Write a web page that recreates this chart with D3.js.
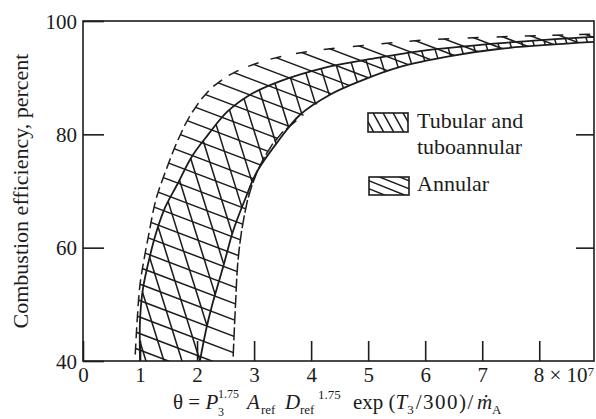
<!DOCTYPE html>
<html><head><meta charset="utf-8">
<script src="https://cdn.jsdelivr.net/npm/d3@7"></script>
<style>
body{margin:0;background:#fff;}
svg{display:block;font-family:"Liberation Serif","Times New Roman",serif;}
</style></head><body>
<svg id="chart" width="596" height="419"></svg>
<script>
// ---------- data ----------
const xTickValues = [0,1,2,3,4,5,6,7,8];
const xTickLabels = ["0","1","2","3","4","5","6","7","8 × 10"];
const xTickExponent = "7";
const yTickValues = [40,60,80,100];
const rightTickValues = [60,80];
const xMax = 8.96;

// Tubular and tuboannular band: upper/left boundary (solid)
const tubUpperX = [1.00,1.00,1.05,1.18,1.30,1.44,1.65,1.91,2.19,2.53,2.93,3.46,4.21,5.04,5.91,7.32,8.96];
const tubUpperY = [40.0,47.2,52.7,58.8,63.2,67.1,71.1,76.1,79.9,84.0,87.0,89.4,91.7,93.3,94.7,96.1,97.2];
// Tubular and tuboannular band: lower/right boundary (solid)
const tubLowerX = [2.05,2.16,2.26,2.46,2.63,2.84,3.05,3.40,3.81,4.33,4.86,5.56,6.44,7.32,8.96];
const tubLowerY = [40.0,45.6,49.7,56.7,62.9,68.5,73.4,78.5,83.5,87.0,89.4,91.9,93.8,95.1,96.3];
// Annular band: upper/left boundary (broken)
const annUpperX = [0.91,0.95,1.00,1.07,1.16,1.28,1.46,1.67,1.91,2.23,2.58,2.93,3.46,4.16,5.04,6.09,7.32,8.96];
const annUpperY = [40.0,47.2,53.5,57.9,62.7,68.5,73.8,79.1,83.8,87.9,90.5,92.1,93.7,94.9,95.8,96.7,97.2,97.7];
// Annular band: lower/right boundary (broken, joins tubular lower boundary)
const annLowerX = [2.63,2.67,2.72,2.81,2.93,3.14,3.46,3.90,4.33,4.86,5.56,6.44,7.32,8.96];
const annLowerY = [40.0,49.1,57.9,64.6,69.9,75.2,79.9,83.6,87.0,89.4,91.9,93.8,95.1,96.3];

const legendLabels = [["Tubular and","tuboannular"],["Annular"]];
const yTitle = "Combustion efficiency, percent";

// ---------- setup ----------
const svg = d3.select("#chart");
const x = d3.scaleLinear().domain([0, xMax]).range([83, 594]);
const y = d3.scaleLinear().domain([40, 100]).range([361, 21]);
const ink = "#1c1c1c";

const toPts = (xs, ys) => xs.map((v,i) => [x(v), y(ys[i])]);
const lineGen = d3.line().curve(d3.curveCatmullRom.alpha(0.5));

function sample(pts){
  const p = svg.append("path").attr("d", lineGen(pts)).attr("fill","none");
  const n = p.node(), L = n.getTotalLength(), out = [];
  for (let s = 0; s < L; s += 1){ const q = n.getPointAtLength(s); out.push([q.x,q.y]); }
  const q = n.getPointAtLength(L); out.push([q.x,q.y]);
  p.remove();
  return out;
}
function intersect(p0, v, poly){
  for (let i = 0; i < poly.length-1; i++){
    const a = poly[i], b = poly[i+1];
    const e = [b[0]-a[0], b[1]-a[1]];
    const den = v[0]*e[1] - v[1]*e[0];
    if (Math.abs(den) < 1e-9) continue;
    const w = [a[0]-p0[0], a[1]-p0[1]];
    const u = (w[0]*v[1] - w[1]*v[0]) / den;
    if (u >= 0 && u <= 1){
      const len = Math.hypot(e[0],e[1]);
      return {pt:[a[0]+u*e[0], a[1]+u*e[1]], tan:[e[0]/len, e[1]/len]};
    }
  }
  return null;
}

const tubU = toPts(tubUpperX, tubUpperY), tubL = toPts(tubLowerX, tubLowerY);
const annU = toPts(annUpperX, annUpperY), annL = toPts(annLowerX, annLowerY);
const sTubU = sample(tubU), sTubL = sample(tubL), sAnnU = sample(annU), sAnnL = sample(annL);

const defs = svg.append("defs");
const polyPath = pts => "M" + pts.map(p => p.join(",")).join("L") + "Z";
defs.append("clipPath").attr("id","clipTub").append("path")
  .attr("d", polyPath(sTubU.concat(sTubL.slice().reverse())));
defs.append("clipPath").attr("id","clipAnn").append("path")
  .attr("d", polyPath(sAnnU.concat(sAnnL.slice().reverse())));
defs.append("clipPath").attr("id","clipPlot").append("rect")
  .attr("x", x(0)).attr("y", y(100)).attr("width", x(xMax)-x(0)).attr("height", y(40)-y(100));

const plot = svg.append("g").attr("clip-path","url(#clipPlot)");

// ---------- annular hatch (shallow "\") ----------
const annSlope = 0.38;
const annDir = [1/Math.hypot(1,annSlope), annSlope/Math.hypot(1,annSlope)];
const annG = plot.append("g");
const annHatch = annG.append("g").attr("clip-path","url(#clipAnn)");
let b = 345;
while (b > -175){
  const p0 = [x(0), b];
  annHatch.append("line")
    .attr("x1", p0[0]-50).attr("y1", p0[1]-50*annSlope)
    .attr("x2", p0[0]+600).attr("y2", p0[1]+600*annSlope)
    .attr("stroke", ink).attr("stroke-width", 1.5);
  const hu = intersect(p0, annDir, sAnnU);
  if (hu){
    annG.append("line")
      .attr("x1", hu.pt[0]-hu.tan[0]*6).attr("y1", hu.pt[1]-hu.tan[1]*6)
      .attr("x2", hu.pt[0]+hu.tan[0]*5).attr("y2", hu.pt[1]+hu.tan[1]*5)
      .attr("stroke", ink).attr("stroke-width", 1.5);
  }
  const hl = intersect(p0, annDir, sAnnL);
  if (hl && hl.pt[1] > y(82)){
    annG.append("line")
      .attr("x1", hl.pt[0]-hl.tan[0]*4).attr("y1", hl.pt[1]-hl.tan[1]*4)
      .attr("x2", hl.pt[0]+hl.tan[0]*9).attr("y2", hl.pt[1]+hl.tan[1]*9)
      .attr("stroke", ink).attr("stroke-width", 1.5);
  }
  b -= b > 40 ? 16.5 : Math.max(11, 16.5 - (40-b)*0.03);
}

// ---------- tubular hatch (steep "\") ----------
const tubSlope = 3.2;
const tubHatch = plot.append("g").attr("clip-path","url(#clipTub)");
let c = 110;
while (c < 730){
  const yb = y(40);
  tubHatch.append("line")
    .attr("x1", c + 10/tubSlope).attr("y1", yb + 10)
    .attr("x2", c - 360/tubSlope).attr("y2", yb - 360)
    .attr("stroke", ink).attr("stroke-width", 1.5);
  c += c < 330 ? 18 : Math.max(10, 18 - (c-330)*0.022);
}

// ---------- solid tubular boundaries ----------
[tubU, tubL].forEach(pts => {
  plot.append("path").attr("d", lineGen(pts))
    .attr("fill","none").attr("stroke", ink).attr("stroke-width", 1.8);
});

// ---------- axes ----------
const fontSize = 21;
const xAxis = svg.append("g").attr("transform", `translate(0,${y(40)})`)
  .call(d3.axisBottom(x).tickValues(xTickValues).tickSize(-20).tickPadding(6)
        .tickFormat((d,i) => xTickLabels[i]));
const yAxis = svg.append("g").attr("transform", `translate(${x(0)},0)`)
  .call(d3.axisLeft(y).tickValues(yTickValues).tickSize(-21).tickPadding(6).tickFormat(d3.format("d")));
const rAxis = svg.append("g").attr("transform", `translate(${x(xMax)},0)`)
  .call(d3.axisRight(y).tickValues(rightTickValues).tickSize(-18).tickFormat(""));
[xAxis, yAxis, rAxis].forEach(g => {
  g.select(".domain").remove();
  g.selectAll("line").attr("stroke", ink).attr("stroke-width", 1.6);
  g.selectAll("text").attr("fill", ink).attr("font-size", fontSize)
    .attr("font-family", '"Liberation Serif","Times New Roman",serif');
});
xAxis.selectAll(".tick").filter(d => d === 8).select("text")
  .attr("text-anchor","start").attr("x", -6)
  .append("tspan").attr("dy", "-0.45em").attr("font-size", 13).text(xTickExponent);
yAxis.selectAll(".tick text").attr("dy", "0.34em");

// frame
svg.append("rect").attr("x", x(0)).attr("y", y(100))
  .attr("width", x(xMax)-x(0)).attr("height", y(40)-y(100))
  .attr("fill","none").attr("stroke", ink).attr("stroke-width", 1.6);

// ---------- y title ----------
svg.append("text").attr("transform", `translate(28,${191}) rotate(-90)`)
  .attr("text-anchor","middle").attr("font-size", 22).attr("fill", ink).text(yTitle);

// ---------- x title ----------
const xt = svg.append("text").attr("font-size", 21).attr("fill", ink);
const sm = 13, base = 409;
const ts = (txt, o) => { const t = xt.append("tspan").text(txt);
  Object.entries(o).forEach(([k,v]) => t.attr(k, v)); return t; };
ts("θ = ", {x:173, y:base});
ts("P", {"font-style":"italic"});
ts("1.75", {x:218, y:base-11, "font-size":12});
ts("3", {x:218, y:base+7, "font-size":12});
ts("A", {x:247, y:base, "font-style":"italic"});
ts("ref", {x:261, y:base+5, "font-size":sm});
ts("D", {x:285, y:base, "font-style":"italic"});
ts("ref", {x:300, y:base+5, "font-size":sm});
ts("1.75", {x:318, y:base-10, "font-size":sm});
ts("exp (", {x:353, y:base});
ts("T", {"font-style":"italic"});
ts("3", {y:base+5, "font-size":sm});
ts("/300)/", {y:base, dx:2, "letter-spacing":1.5});
ts("ṁ", {"font-style":"italic", dx:2});
ts("A", {y:base+5, "font-size":sm});

// ---------- legend ----------
const leg = svg.append("g");
const boxes = [{x:368, y:113, w:40, h:19, kind:"tub"}, {x:369, y:177, w:40, h:18, kind:"ann"}];
boxes.forEach((bx, i) => {
  const id = "legclip" + i;
  defs.append("clipPath").attr("id", id).append("rect")
    .attr("x", bx.x).attr("y", bx.y).attr("width", bx.w).attr("height", bx.h);
  const g = leg.append("g").attr("clip-path", `url(#${id})`);
  if (bx.kind === "tub"){
    for (let k = -1; k < 5; k++){
      const cx = bx.x + 4 + k*10;
      g.append("line").attr("x1", cx).attr("y1", bx.y - 2)
        .attr("x2", cx + (bx.h+4)/1.8).attr("y2", bx.y + bx.h + 2)
        .attr("stroke", ink).attr("stroke-width", 1.5);
    }
  } else {
    for (let k = -4; k < 3; k++){
      const cy = bx.y + 3 + k*8;
      g.append("line").attr("x1", bx.x - 2).attr("y1", cy)
        .attr("x2", bx.x + bx.w + 2).attr("y2", cy + (bx.w+4)*0.4)
        .attr("stroke", ink).attr("stroke-width", 1.5);
    }
  }
  leg.append("rect").attr("x", bx.x).attr("y", bx.y).attr("width", bx.w).attr("height", bx.h)
    .attr("fill","none").attr("stroke", ink).attr("stroke-width", 1.6);
});
const lt1 = leg.append("text").attr("x", 417).attr("y", 128).attr("font-size", 22).attr("fill", ink);
lt1.append("tspan").attr("x", 417).text(legendLabels[0][0]);
lt1.append("tspan").attr("x", 417).attr("dy", 26).text(legendLabels[0][1]);
leg.append("text").attr("x", 417).attr("y", 191).attr("font-size", 22).attr("fill", ink).text(legendLabels[1][0]);
</script>
</body></html>
